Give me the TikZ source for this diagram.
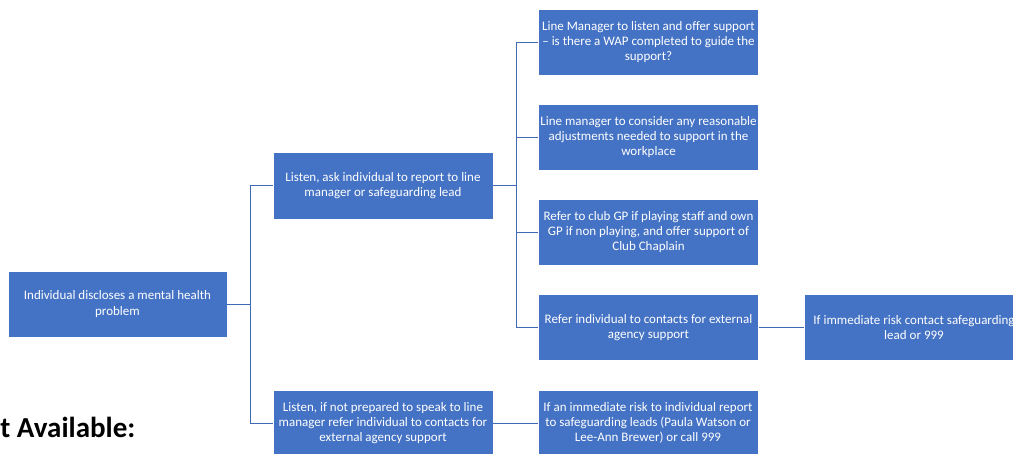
\documentclass[tikz,border=0pt]{standalone}
\usepackage{fontspec}
\setmainfont{Carlito}
\usetikzlibrary{positioning}
\definecolor{BoxBlue}{HTML}{4472C4}
\definecolor{LinkBlue}{HTML}{3F68B5}

\begin{document}
\begin{tikzpicture}[x=1pt,y=-1pt,
  box/.style={fill=BoxBlue, draw=white, line width=0.6pt, minimum width=220pt, minimum height=66pt,
    inner sep=0pt, align=center, text=white, font=\fontsize{13}{15.3}\selectfont},
  link/.style={draw=LinkBlue, line width=0.9pt}]

\useasboundingbox (0,0) rectangle (1013,453);
\clip (0,0) rectangle (1013,453);

% --- ROOT ---
\node[box, minimum width=219pt] (disc) at (117.5,304) {Individual discloses a mental health\\problem};

% --- SECOND LEVEL ---
\node[box, minimum height=67pt] (ask) at (383,185.5) {Listen, ask individual to report to line\\manager or safeguarding lead};
\node[box] (notprep) at (383,423) {Listen, if not prepared to speak to line\\manager refer individual to contacts for\\external agency support};

% --- THIRD LEVEL ---
\node[box] (wap) at (648.5,42) {Line Manager to listen and offer support\\– is there a WAP completed to guide the\\support?};
\node[box] (adjust) at (648.5,137) {Line manager to consider any reasonable\\adjustments needed to support in the\\workplace};
\node[box] (gp) at (648.5,232) {Refer to club GP if playing staff and own\\GP if non playing, and offer support of\\Club Chaplain};
\node[box] (ext) at (648.5,327.5) {Refer individual to contacts for external\\agency support};
\node[box] (immrisk) at (648,423) {If an immediate risk to individual report\\to safeguarding leads (Paula Watson or\\Lee-Ann Brewer) or call 999};

% --- FOURTH LEVEL ---
\node[box] (safe) at (914,327.5) {If immediate risk contact safeguarding\\lead or 999};

% --- CONNECTORS ---
\coordinate (trunkA) at (250,0);
\coordinate (trunkB) at (516.5,0);
\foreach \n in {ask,notprep}
  \draw[link] (disc.east) -- (disc.east -| trunkA) |- (\n.west);
\foreach \n in {wap,adjust,gp,ext}
  \draw[link] (ask.east) -- (ask.east -| trunkB) |- (\n.west);
\draw[link] (ext.east) -- (safe.west);
\draw[link] (notprep.east) -- (immrisk.west);

% --- CUT-OFF HEADING ---
\node[anchor=base east, inner sep=0pt, font=\fontsize{29}{34}\bfseries\selectfont] (avail) at (135.5,437) {t Available:};

\end{tikzpicture}
\end{document}
